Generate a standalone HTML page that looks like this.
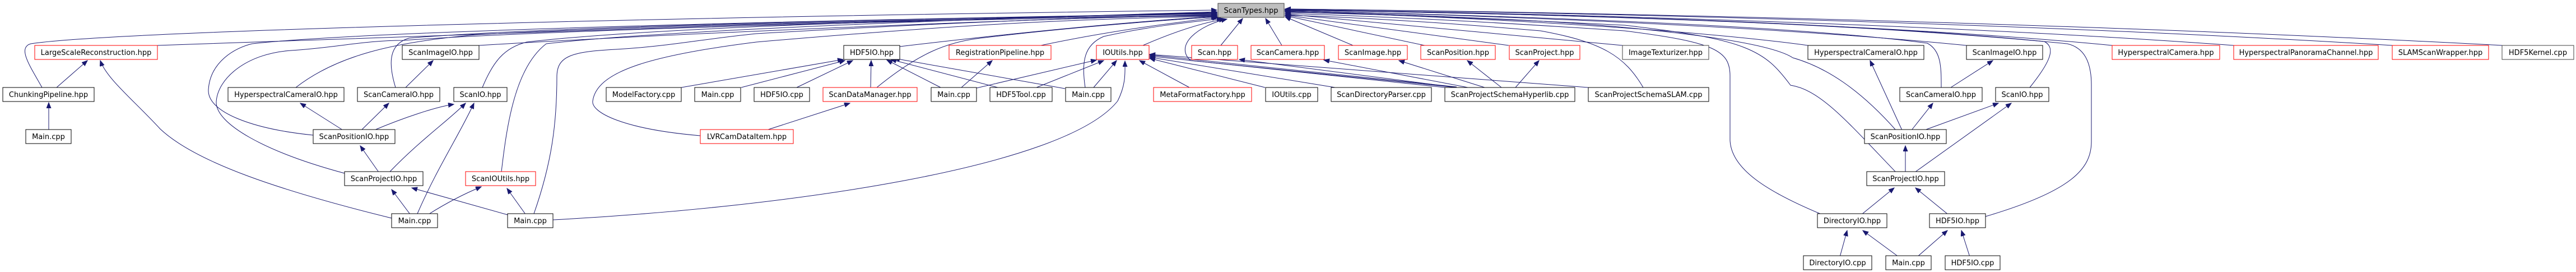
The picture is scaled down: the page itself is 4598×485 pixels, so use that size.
<!DOCTYPE html>
<html><head><meta charset="utf-8"><style>
html,body{margin:0;padding:0;background:#fff;}
svg{display:block;}
text{font-family:"DejaVu Sans","Liberation Sans",sans-serif;font-size:13px;fill:#000;text-anchor:middle;}
.n rect{fill:#fff;stroke:#000;stroke-width:1;}
.r rect{fill:#fff;stroke:#ff0000;stroke-width:1;}
.g rect{fill:#fff;stroke:#404040;stroke-width:1;}
path{fill:none;stroke:#191970;stroke-width:1;}
</style></head><body>
<svg width="4598" height="485" viewBox="0 0 4598 485" xmlns="http://www.w3.org/2000/svg">
<defs><marker id="a" markerUnits="userSpaceOnUse" markerWidth="12" markerHeight="10" refX="10" refY="4" orient="auto"><path d="M0,0 L10,4 L0,8 Z" style="fill:#191970;stroke:#191970"/></marker></defs>
<g marker-end="url(#a)">
<!-- to ScanTypes left -->
<path d="M281,81 C800,60 1600,35 2172,22"/>
<path d="M75,156 C55,120 30,85 55,78 C200,55 1200,30 2172,18"/>
<path d="M706,156 C695,120 690,80 730,68 C1000,45 1800,30 2172,25"/>
<path d="M528,156 C600,100 700,75 850,62 C1200,42 1900,30 2172,27"/>
<path d="M559,241 C450,230 370,200 372,160 C375,110 420,85 450,78 C700,50 1800,30 2172,24"/>
<path d="M615,309 C470,270 385,220 386,182 C388,140 440,95 520,90 C600,85 650,72 720,72 C1000,52 1800,32 2172,28"/>
<path d="M855,81 C1200,60 1800,35 2172,26"/>
<path d="M861,156 C880,110 900,85 940,75 C1200,45 1800,32 2172,23"/>
<path d="M895,306 C905,220 920,120 975,78 C1200,52 1800,32 2172,21"/>
<path d="M953,381 C985,290 994,220 994,135 C995,100 1020,92 1100,88 C1200,82 1250,70 1350,60 C1700,40 1900,32 2172,27"/>
<path d="M1250,242 C1110,230 1055,200 1058,180 C1065,130 1150,100 1350,75 C1700,45 1900,34 2172,29"/>
<path d="M1606,83 C1800,60 2000,40 2172,29"/>
<path d="M1565,156 C1640,95 1690,75 1750,68 C1900,50 2050,38 2172,30"/>
<path d="M1858,81 C1980,55 2100,40 2174,31"/>
<path d="M1937,156 C1930,110 1935,80 1970,65 C2060,45 2140,38 2182,33"/>
<path d="M2040,81 C2100,55 2150,40 2186,34"/>
<path d="M2600,156 L2125,108 C2095,80 2140,45 2190,34"/>
<path d="M2179,81 L2218,33"/>
<path d="M2288,81 L2259,33"/>
<!-- to ScanTypes right -->
<path d="M2415,81 L2294,30"/>
<path d="M2543,81 L2294,28"/>
<path d="M2693,81 L2294,27"/>
<path d="M2896,81 L2294,25"/>
<path d="M2933,156 C2900,100 2860,75 2750,55 C2550,38 2400,30 2294,27"/>
<path d="M3251,382 C3150,340 3090,300 3088,250 L3088,135 C3088,90 3060,75 2900,55 C2600,35 2400,27 2294,24"/>
<path d="M3384,307 C3300,220 3250,160 3196,152 C3150,90 3120,70 2900,45 C2600,30 2400,24 2294,22"/>
<path d="M3384,232 C3320,160 3260,120 3200,103 C3150,70 2900,45 2700,35 C2500,26 2400,22 2294,21"/>
<path d="M3227,81 C3000,50 2600,30 2294,20"/>
<path d="M3465,156 C3465,120 3465,90 3440,77 C3200,45 2700,28 2294,19"/>
<path d="M3510,81 C3200,50 2700,28 2294,19"/>
<path d="M3623,156 C3660,110 3670,85 3649,74 C3300,40 2800,25 2294,18"/>
<path d="M3544,386 C3700,340 3733,300 3733,252 L3733,152 C3733,110 3720,85 3690,78 C3300,40 2800,25 2294,18"/>
<path d="M3770,81 C3400,45 2800,25 2294,17"/>
<path d="M3987,81 C3500,45 2800,24 2294,17"/>
<path d="M4270,81 C3600,40 2800,22 2294,16"/>
<path d="M4466,81 C3700,40 2800,21 2294,16"/>
<!-- left cluster -->
<path d="M101,156 L156,108"/>
<path d="M87,231 L87,183"/>
<path d="M699,389 C500,340 350,290 286,230 C240,180 190,140 179,108"/>
<path d="M745,381 C780,300 820,240 846,184"/>
<path d="M765,382 C800,360 830,345 859,333"/>
<path d="M732,382 L699,338"/>
<path d="M906,383 L735,335"/>
<path d="M696,306 C750,250 800,215 831,184"/>
<path d="M668,232 C720,210 780,190 810,186"/>
<path d="M612,232 L536,184"/>
<path d="M645,232 L694,184"/>
<path d="M676,307 L643,260"/>
<path d="M724,156 L773,108"/>
<path d="M938,382 L905,336"/>
<path d="M987,392 C1400,370 1900,300 1995,180 C2010,150 2008,130 2008,109"/>
<path d="M1368,232 L1517,184"/>
<path d="M1216,156 L1505,106"/>
<path d="M1323,156 L1508,108"/>
<path d="M1422,156 L1522,108"/>
<path d="M1554,156 L1555,108"/>
<path d="M1679,156 L1583,107"/>
<path d="M1781,156 L1590,106"/>
<path d="M1901,158 L1596,104"/>
<path d="M1716,156 L1771,108"/>
<path d="M1743,157 L1957,107"/>
<path d="M1850,156 L1970,108"/>
<path d="M1952,156 L1993,108"/>
<path d="M2123,156 L2034,108"/>
<path d="M2258,156 L2052,104"/>
<path d="M2383,156 L2052,102"/>
<path d="M2579,156 L2052,100"/>
<path d="M2600,155 L2052,98"/>
<path d="M2835,156 L2052,97"/>
<path d="M2600,156 L2212,106"/>
<path d="M2620,156 L2363,107"/>
<path d="M2650,156 L2497,108"/>
<path d="M2680,156 L2619,108"/>
<path d="M2705,156 L2747,108"/>
<!-- right cluster -->
<path d="M3395,232 L3338,108"/>
<path d="M3482,156 L3557,108"/>
<path d="M3412,232 L3450,184"/>
<path d="M3435,232 L3567,184"/>
<path d="M3401,307 L3401,260"/>
<path d="M3418,307 L3590,184"/>
<path d="M3322,383 L3381,335"/>
<path d="M3478,383 L3419,335"/>
<path d="M3284,458 L3297,411"/>
<path d="M3389,458 L3325,411"/>
<path d="M3422,458 L3476,411"/>
<path d="M3516,458 L3501,411"/>
</g>
<!-- nodes -->
<g class="g"><rect x="2174" y="6" width="118" height="25" style="fill:#bfbfbf"/><text x="2233" y="23">ScanTypes.hpp</text></g>
<g class="r"><rect x="62" y="81" width="219" height="25"/><text x="171.5" y="98">LargeScaleReconstruction.hpp</text></g>
<g class="n"><rect x="5" y="156" width="163" height="25"/><text x="86.5" y="173">ChunkingPipeline.hpp</text></g>
<g class="n"><rect x="46" y="231" width="81" height="25"/><text x="86.5" y="248">Main.cpp</text></g>
<g class="n"><rect x="718" y="81" width="137" height="25"/><text x="786.5" y="98">ScanImageIO.hpp</text></g>
<g class="n"><rect x="407" y="156" width="207" height="25"/><text x="510.5" y="173">HyperspectralCameraIO.hpp</text></g>
<g class="n"><rect x="638" y="156" width="147" height="25"/><text x="711.5" y="173">ScanCameraIO.hpp</text></g>
<g class="n"><rect x="559" y="231" width="146" height="25"/><text x="632" y="248">ScanPositionIO.hpp</text></g>
<g class="n"><rect x="615" y="306" width="140" height="25"/><text x="685" y="323">ScanProjectIO.hpp</text></g>
<g class="n"><rect x="699" y="381" width="82" height="25"/><text x="740" y="398">Main.cpp</text></g>
<g class="n"><rect x="810" y="156" width="95" height="25"/><text x="857.5" y="173">ScanIO.hpp</text></g>
<g class="r"><rect x="831" y="306" width="125" height="25"/><text x="893.5" y="323">ScanIOUtils.hpp</text></g>
<g class="n"><rect x="906" y="381" width="81" height="25"/><text x="946.5" y="398">Main.cpp</text></g>
<g class="n"><rect x="1082" y="156" width="134" height="25"/><text x="1149" y="173">ModelFactory.cpp</text></g>
<g class="n"><rect x="1240" y="156" width="82" height="25"/><text x="1281" y="173">Main.cpp</text></g>
<g class="n"><rect x="1346" y="156" width="99" height="25"/><text x="1395.5" y="173">HDF5IO.cpp</text></g>
<g class="r"><rect x="1469" y="156" width="168" height="25"/><text x="1553" y="173">ScanDataManager.hpp</text></g>
<g class="r"><rect x="1250" y="231" width="166" height="25"/><text x="1333" y="248">LVRCamDataItem.hpp</text></g>
<g class="n"><rect x="1506" y="81" width="100" height="25"/><text x="1556" y="98">HDF5IO.hpp</text></g>
<g class="r"><rect x="1694" y="81" width="182" height="25"/><text x="1785" y="98">RegistrationPipeline.hpp</text></g>
<g class="r"><rect x="1957" y="81" width="94" height="25"/><text x="2004" y="98">IOUtils.hpp</text></g>
<g class="r"><rect x="2127" y="81" width="82" height="25"/><text x="2168" y="98">Scan.hpp</text></g>
<g class="r"><rect x="2233" y="81" width="131" height="25"/><text x="2298.5" y="98">ScanCamera.hpp</text></g>
<g class="r"><rect x="2389" y="81" width="123" height="25"/><text x="2450.5" y="98">ScanImage.hpp</text></g>
<g class="n"><rect x="1662" y="156" width="81" height="25"/><text x="1702.5" y="173">Main.cpp</text></g>
<g class="n"><rect x="1767" y="156" width="111" height="25"/><text x="1822.5" y="173">HDF5Tool.cpp</text></g>
<g class="n"><rect x="1902" y="156" width="81" height="25"/><text x="1942.5" y="173">Main.cpp</text></g>
<g class="r"><rect x="2059" y="156" width="175" height="25"/><text x="2146.5" y="173">MetaFormatFactory.hpp</text></g>
<g class="n"><rect x="2259" y="156" width="93" height="25"/><text x="2305.5" y="173">IOUtils.cpp</text></g>
<g class="n"><rect x="2376" y="156" width="179" height="25"/><text x="2465.5" y="173">ScanDirectoryParser.cpp</text></g>
<g class="r"><rect x="2536" y="81" width="133" height="25"/><text x="2602.5" y="98">ScanPosition.hpp</text></g>
<g class="r"><rect x="2694" y="81" width="126" height="25"/><text x="2757" y="98">ScanProject.hpp</text></g>
<g class="g"><rect x="2896" y="81" width="154" height="25"/><text x="2973" y="98">ImageTexturizer.hpp</text></g>
<g class="n"><rect x="2579" y="156" width="232" height="25"/><text x="2695" y="173">ScanProjectSchemaHyperlib.cpp</text></g>
<g class="n"><rect x="2835" y="156" width="215" height="25"/><text x="2942.5" y="173">ScanProjectSchemaSLAM.cpp</text></g>
<g class="n"><rect x="3227" y="81" width="207" height="25"/><text x="3330.5" y="98">HyperspectralCameraIO.hpp</text></g>
<g class="n"><rect x="3510" y="81" width="136" height="25"/><text x="3578" y="98">ScanImageIO.hpp</text></g>
<g class="r"><rect x="3770" y="81" width="192" height="25"/><text x="3866" y="98">HyperspectralCamera.hpp</text></g>
<g class="r"><rect x="3987" y="81" width="258" height="25"/><text x="4116" y="98">HyperspectralPanoramaChannel.hpp</text></g>
<g class="n"><rect x="3391" y="156" width="147" height="25"/><text x="3464.5" y="173">ScanCameraIO.hpp</text></g>
<g class="n"><rect x="3562" y="156" width="95" height="25"/><text x="3609.5" y="173">ScanIO.hpp</text></g>
<g class="n"><rect x="3328" y="231" width="146" height="25"/><text x="3401" y="248">ScanPositionIO.hpp</text></g>
<g class="n"><rect x="3332" y="306" width="139" height="25"/><text x="3401.5" y="323">ScanProjectIO.hpp</text></g>
<g class="n"><rect x="3244" y="381" width="124" height="25"/><text x="3306" y="398">DirectoryIO.hpp</text></g>
<g class="n"><rect x="3444" y="381" width="100" height="25"/><text x="3494" y="398">HDF5IO.hpp</text></g>
<g class="n"><rect x="3219" y="456" width="122" height="25"/><text x="3280" y="473">DirectoryIO.cpp</text></g>
<g class="n"><rect x="3366" y="456" width="81" height="25"/><text x="3406.5" y="473">Main.cpp</text></g>
<g class="n"><rect x="3472" y="456" width="98" height="25"/><text x="3521" y="473">HDF5IO.cpp</text></g>
<g class="r"><rect x="4270" y="81" width="172" height="25"/><text x="4356" y="98">SLAMScanWrapper.hpp</text></g>
<g class="g"><rect x="4466" y="81" width="128" height="25"/><text x="4530" y="98">HDF5Kernel.cpp</text></g>
</svg>
</body></html>
